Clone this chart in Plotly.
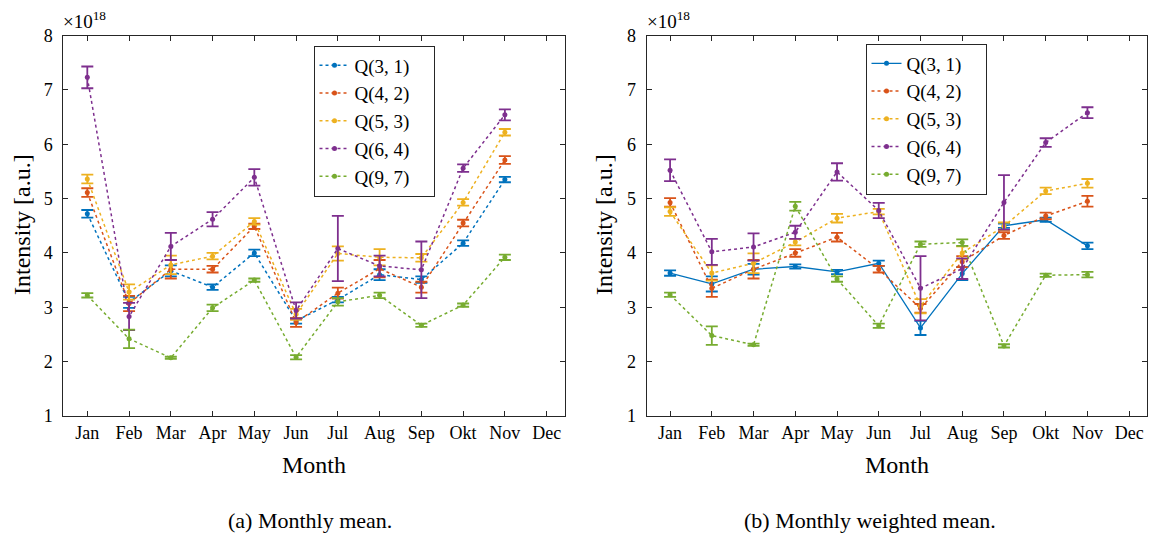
import plotly.graph_objects as go

months = ["Jan", "Feb", "Mar", "Apr", "May", "Jun", "Jul", "Aug", "Sep", "Okt", "Nov", "Dec"]
month_idx = list(range(1, 12))  # data for Jan..Nov
series_names = ["Q(3, 1)", "Q(4, 2)", "Q(5, 3)", "Q(6, 4)", "Q(9, 7)"]
colors = ["#0072BD", "#D95319", "#EDB120", "#7E2F8E", "#77AC30"]

# (a) Monthly mean, in units of 1e18
mean_q31 = [4.72, 3.09, 3.67, 3.37, 4.00, 2.75, 3.14, 3.60, 3.51, 4.18, 5.35]
mean_q42 = [5.11, 3.07, 3.70, 3.70, 4.49, 2.72, 3.26, 3.71, 3.37, 4.55, 5.71]
mean_q53 = [5.36, 3.28, 3.78, 3.94, 4.58, 2.87, 3.99, 3.92, 3.91, 4.93, 6.22]
mean_q64 = [7.23, 2.83, 4.12, 4.62, 5.39, 2.94, 4.08, 3.76, 3.69, 5.56, 6.54]
mean_q97 = [3.22, 2.42, 2.07, 2.99, 3.50, 2.08, 3.10, 3.22, 2.67, 3.04, 3.92]
mean_err_q31 = [0.07, 0.10, 0.10, 0.05, 0.06, 0.05, 0.05, 0.10, 0.06, 0.05, 0.05]
mean_err_q42 = [0.08, 0.14, 0.17, 0.06, 0.05, 0.08, 0.10, 0.16, 0.10, 0.06, 0.07]
mean_err_q53 = [0.08, 0.14, 0.17, 0.06, 0.06, 0.10, 0.13, 0.15, 0.07, 0.06, 0.06]
mean_err_q64 = [0.20, 0.25, 0.25, 0.13, 0.15, 0.15, 0.60, 0.19, 0.52, 0.07, 0.10]
mean_err_q97 = [0.04, 0.17, 0.02, 0.06, 0.03, 0.04, 0.07, 0.05, 0.03, 0.03, 0.05]

# (b) Monthly weighted mean, in units of 1e18
wmean_q31 = [3.63, 3.43, 3.70, 3.75, 3.65, 3.81, 2.62, 3.62, 4.50, 4.61, 4.13]
wmean_q42 = [4.93, 3.35, 3.70, 4.00, 4.29, 3.70, 2.98, 3.84, 4.32, 4.68, 4.95]
wmean_q53 = [4.76, 3.63, 3.81, 4.20, 4.64, 4.76, 3.02, 4.00, 4.49, 5.14, 5.28]
wmean_q64 = [5.52, 4.02, 4.11, 4.38, 5.49, 4.78, 3.35, 3.71, 4.93, 6.03, 6.58]
wmean_q97 = [3.23, 2.48, 2.31, 4.86, 3.52, 2.66, 4.16, 4.19, 2.29, 3.59, 3.60]
wmean_err_q31 = [0.05, 0.14, 0.10, 0.04, 0.04, 0.05, 0.13, 0.12, 0.04, 0.04, 0.06]
wmean_err_q42 = [0.08, 0.16, 0.17, 0.07, 0.08, 0.06, 0.08, 0.10, 0.06, 0.06, 0.10]
wmean_err_q53 = [0.08, 0.14, 0.18, 0.06, 0.08, 0.05, 0.13, 0.12, 0.07, 0.06, 0.08]
wmean_err_q64 = [0.20, 0.24, 0.25, 0.12, 0.16, 0.14, 0.59, 0.19, 0.50, 0.08, 0.10]
wmean_err_q97 = [0.04, 0.17, 0.02, 0.08, 0.05, 0.04, 0.05, 0.06, 0.03, 0.03, 0.05]

y_ticks = [1, 2, 3, 4, 5, 6, 7, 8]

left_vals = [mean_q31, mean_q42, mean_q53, mean_q64, mean_q97]
left_errs = [mean_err_q31, mean_err_q42, mean_err_q53, mean_err_q64, mean_err_q97]
right_vals = [wmean_q31, wmean_q42, wmean_q53, wmean_q64, wmean_q97]
right_errs = [wmean_err_q31, wmean_err_q42, wmean_err_q53, wmean_err_q64, wmean_err_q97]
right_dash = ["solid", "dot", "dot", "dot", "dot"]

FONT = "Liberation Serif, Times New Roman, DejaVu Serif, serif"
fig = go.Figure()

for i in range(5):
    fig.add_trace(go.Scatter(
        x=month_idx, y=left_vals[i], name=series_names[i] + "\u2003", mode="lines+markers",
        line=dict(color=colors[i], width=1.5, dash="dot"),
        marker=dict(color=colors[i], size=5),
        error_y=dict(type="data", array=left_errs[i], visible=True,
                     color=colors[i], thickness=1.8, width=6),
        xaxis="x", yaxis="y", legend="legend"))

for i in range(5):
    fig.add_trace(go.Scatter(
        x=month_idx, y=right_vals[i], name=series_names[i] + "\u2003", mode="lines+markers",
        line=dict(color=colors[i], width=1.3 if right_dash[i] == "solid" else 1.5, dash=right_dash[i]),
        marker=dict(color=colors[i], size=5),
        error_y=dict(type="data", array=right_errs[i], visible=True,
                     color=colors[i], thickness=1.8, width=6),
        xaxis="x2", yaxis="y2", legend="legend2"))

W, H = 1156, 533
def px_x(v):
    return v / W
def px_y(v):
    return 1 - v / H

ydom = [px_y(416), px_y(35.5)]
axis_common = dict(showline=True, linecolor="#262626", linewidth=1, mirror="ticks",
                   ticks="inside", ticklen=5, tickcolor="#262626", showgrid=False,
                   zeroline=False, automargin=False,
                   tickfont=dict(family=FONT, size=18, color="#000"))

fig.update_layout(
    width=W, height=H, margin=dict(l=0, r=0, t=0, b=0, autoexpand=False),
    paper_bgcolor="white", plot_bgcolor="white",
    font=dict(family=FONT, color="#000"),
    xaxis=dict(domain=[px_x(63.3), px_x(565)], range=[0.425, 12.44],
               tickvals=list(range(1, 13)), ticktext=months, anchor="y", **axis_common),
    yaxis=dict(domain=ydom, range=[1, 8], tickvals=y_ticks, anchor="x",
               ticklabelstandoff=6, **axis_common),
    xaxis2=dict(domain=[px_x(646.7), px_x(1146.7)], range=[0.44, 12.42],
                tickvals=list(range(1, 13)), ticktext=months, anchor="y2", **axis_common),
    yaxis2=dict(domain=ydom, range=[1, 8], tickvals=y_ticks, anchor="x2",
                ticklabelstandoff=6, **axis_common),
    legend=dict(x=px_x(313.5), y=px_y(45.5), xanchor="left", yanchor="top",
                bgcolor="white", bordercolor="#262626", borderwidth=1,
                font=dict(family=FONT, size=19), tracegroupgap=0, itemwidth=30),
    legend2=dict(x=px_x(865.5), y=px_y(43.5), xanchor="left", yanchor="top",
                 bgcolor="white", bordercolor="#262626", borderwidth=1,
                 font=dict(family=FONT, size=19), tracegroupgap=0, itemwidth=30),
    showlegend=True,
)

ann_specs = [
    ("×10<sup>18</sup>", 61, 20, "left", 0, 19),
    ("×10<sup>18</sup>", 645, 20, "left", 0, 19),
    ("Intensity [a.u.]", 22, 225, "center", -90, 24),
    ("Intensity [a.u.]", 604, 225, "center", -90, 24),
    ("Month", 314, 465, "center", 0, 24),
    ("Month", 897, 465, "center", 0, 24),
    ("(a) Monthly mean.", 310, 520, "center", 0, 22),
    ("(b) Monthly weighted mean.", 870, 520, "center", 0, 22),
]
annotations = []
for text, ax, ay, xanc, ang, fs in ann_specs:
    annotations.append(dict(text=text, x=px_x(ax), y=px_y(ay), xref="paper", yref="paper",
                            xanchor=xanc, yanchor="middle", textangle=ang, showarrow=False,
                            font=dict(family=FONT, size=fs, color="#000")))
fig.update_layout(annotations=annotations)

fig.write_html("out.html")
